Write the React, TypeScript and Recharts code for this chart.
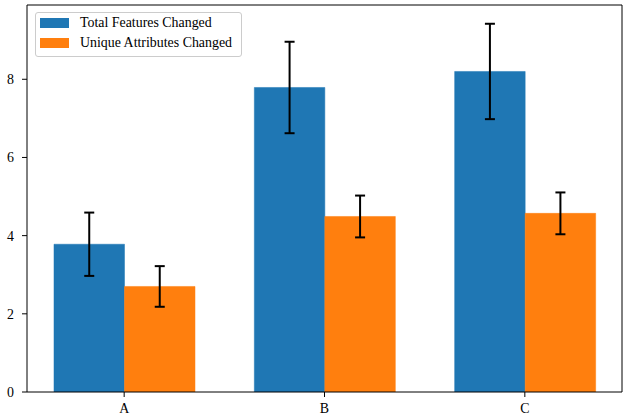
import React from 'react';
import { BarChart, Bar, XAxis, YAxis, ErrorBar, Legend, ReferenceLine } from 'recharts';

const categories = ['A', 'B', 'C'];
const totalFeatures = [3.78, 7.79, 8.2];
const totalErr = [0.81, 1.17, 1.22];
const uniqueAttrs = [2.7, 4.49, 4.57];
const uniqueErr = [0.52, 0.535, 0.535];
const yTicks = [0, 2, 4, 6, 8];

const BLUE = '#1f77b4';
const ORANGE = '#ff7f0e';
const FONT = '"Liberation Serif", "DejaVu Serif", serif';

const data = categories.map((c, i) => ({
  pos: i,
  name: c,
  total: totalFeatures[i],
  totalErr: totalErr[i],
  unique: uniqueAttrs[i],
  uniqueErr: uniqueErr[i],
}));

const xDomain = [-0.485, 2.485];
const yDomain = [0, 9.9];

const legendItems = [
  { label: 'Total Features Changed', color: BLUE },
  { label: 'Unique Attributes Changed', color: ORANGE },
];

function LegendBox() {
  return (
    <div
      style={{
        position: 'relative',
        width: 207,
        height: 45,
        boxSizing: 'border-box',
        border: '1px solid #cccccc',
        borderRadius: 3,
        background: 'rgba(255,255,255,0.8)',
        fontFamily: FONT,
        fontSize: 13.9,
        color: '#000',
      }}
    >
      {legendItems.map((it, i) => (
        <React.Fragment key={it.label}>
          <div
            style={{
              position: 'absolute',
              left: 4,
              top: 5.3 + i * 19.7,
              width: 29,
              height: 10,
              background: it.color,
            }}
          />
          <span
            style={{
              position: 'absolute',
              left: 44,
              top: 3.1 + i * 19.9,
              lineHeight: 1,
              whiteSpace: 'nowrap',
            }}
          >
            {it.label}
          </span>
        </React.Fragment>
      ))}
    </div>
  );
}

export default function App() {
  const tickStyle = { fill: '#000', fontSize: 13.9, fontFamily: FONT };
  return (
    <div style={{ position: 'absolute', left: 0, top: 0, width: 623, height: 415, background: '#fff' }}>
      <BarChart
        width={623}
        height={415}
        data={data}
        margin={{ top: 5, right: 1, left: 0, bottom: 0 }}
        barGap={0}
      >
        <XAxis
          dataKey="pos"
          type="number"
          domain={xDomain}
          allowDataOverflow
          ticks={[0, 1, 2]}
          tickFormatter={(v: number) => categories[v] ?? ''}
          height={23}
          tickSize={5}
          tickMargin={6}
          tick={tickStyle}
          stroke="#000"
          tickLine={{ stroke: '#000' }}
          axisLine={{ stroke: '#000' }}
        />
        <YAxis
          type="number"
          domain={yDomain}
          allowDataOverflow
          ticks={yTicks}
          width={27}
          tickSize={5}
          tickMargin={8}
          tick={tickStyle}
          tickLine={{ stroke: '#000' }}
          axisLine={{ stroke: '#000' }}
        />
        <ReferenceLine y={yDomain[1]} stroke="#000" ifOverflow="visible" />
        <ReferenceLine x={xDomain[1]} stroke="#000" ifOverflow="visible" />
        <Legend
          layout="horizontal"
          verticalAlign="middle"
          align="center"
          wrapperStyle={{ left: 35, top: 12, width: 207, height: 45 }}
          content={() => <LegendBox />}
        />
        <Bar dataKey="total" fill={BLUE} stroke={BLUE} strokeWidth={0.5} barSize={70.5} isAnimationActive={false}>
          <ErrorBar dataKey="totalErr" direction="y" width={5} strokeWidth={2} stroke="#000" />
        </Bar>
        <Bar dataKey="unique" fill={ORANGE} stroke={ORANGE} strokeWidth={0.5} barSize={70.5} isAnimationActive={false}>
          <ErrorBar dataKey="uniqueErr" direction="y" width={5} strokeWidth={2} stroke="#000" />
        </Bar>
      </BarChart>
    </div>
  );
}
